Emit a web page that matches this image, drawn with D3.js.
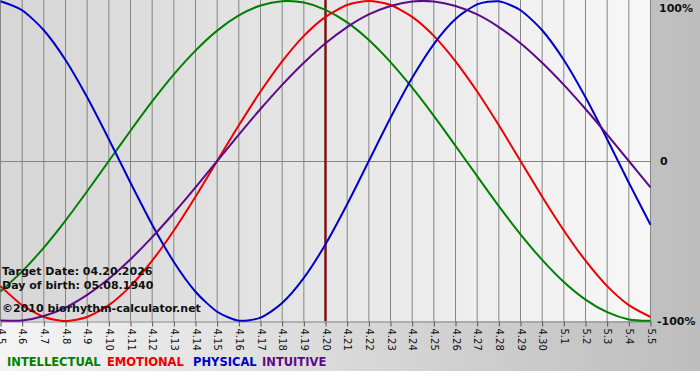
<!DOCTYPE html>
<html>
<head>
<meta charset="utf-8">
<script src="https://cdn.jsdelivr.net/npm/d3@7"></script>
<style>
  body { margin: 0; padding: 0; background: #fff; }
  svg { display: block; font-family: "DejaVu Sans", Verdana, sans-serif; }
</style>
</head>
<body>
<script>
// day labels on the x axis
var days = ["4.5","4.6","4.7","4.8","4.9","4.10","4.11","4.12","4.13","4.14","4.15","4.16","4.17","4.18","4.19","4.20",
  "4.21","4.22","4.23","4.24","4.25","4.26","4.27","4.28","4.29","4.30","5.1","5.2","5.3","5.4","5.5"];

// cycle values per day (-1 .. 1)
var intellectual = [-0.815,-0.690,-0.541,-0.372,-0.189,0,0.189,0.372,0.541,0.690,0.815,0.910,0.972,0.999,0.990,0.945,
  0.866,0.756,0.618,0.458,0.282,0.095,-0.095,-0.282,-0.458,-0.618,-0.756,-0.866,-0.945,-0.990,-0.999];
var emotional = [-0.782,-0.901,-0.975,-1,-0.975,-0.901,-0.782,-0.623,-0.434,-0.223,0,0.223,0.434,0.623,0.782,0.901,
  0.975,1,0.975,0.901,0.782,0.623,0.434,0.223,0,-0.223,-0.434,-0.623,-0.782,-0.901,-0.975];
var physical = [0.998,0.942,0.817,0.631,0.398,0.136,-0.136,-0.398,-0.631,-0.817,-0.942,-0.998,-0.979,-0.888,-0.731,-0.520,
  -0.270,0,0.270,0.520,0.731,0.888,0.979,0.998,0.942,0.817,0.631,0.398,0.136,-0.136,-0.398];
var intuitive = [-0.997,-0.997,-0.969,-0.916,-0.837,-0.736,-0.614,-0.476,-0.325,-0.165,0,0.165,0.325,0.476,0.614,0.736,
  0.837,0.916,0.969,0.997,0.997,0.969,0.916,0.837,0.736,0.614,0.476,0.325,0.165,0,-0.165];

var yTicks = [1, 0, -1];
var yTickLabels = ["100%", "0", "-100%"];
var targetDay = "4.20";
var infoLines = ["Target Date: 04.20.2026", "Day of birth: 05.08.1940"];
var copyright = "\u00a92010 biorhythm-calculator.net";

var series = [
  { name: "INTELLECTUAL", values: intellectual, color: "#008000" },
  { name: "EMOTIONAL", values: emotional, color: "#ee0000" },
  { name: "PHYSICAL", values: physical, color: "#0000cc" },
  { name: "INTUITIVE", values: intuitive, color: "#5c0a8a" }
];

var svgWidth = 700;
var svgHeight = 380;
var plot = { left: 0, top: 1, width: 651, height: 320 };

var svg = d3.select("body")
  .append("svg")
  .attr("width", svgWidth)
  .attr("height", svgHeight);

var defs = svg.append("defs");
var outerGrad = defs.append("linearGradient").attr("id", "outer");
outerGrad.append("stop").attr("offset", "0%").attr("stop-color", "#f4f4f4");
outerGrad.append("stop").attr("offset", "100%").attr("stop-color", "#bdbdbd");
var plotGrad = defs.append("linearGradient").attr("id", "plotbg");
plotGrad.append("stop").attr("offset", "0%").attr("stop-color", "#d6d6d6");
plotGrad.append("stop").attr("offset", "100%").attr("stop-color", "#f7f7f7");

// backgrounds
svg.append("rect").attr("width", svgWidth).attr("height", 371).attr("fill", "url(#outer)");
svg.append("rect").attr("y", 371).attr("width", svgWidth).attr("height", 9).attr("fill", "#ffffff");
svg.append("rect").attr("x", 0).attr("y", 0).attr("width", plot.width).attr("height", plot.height + plot.top)
  .attr("fill", "url(#plotbg)");

var x = d3.scalePoint()
  .domain(days)
  .range([plot.left + 0.5, plot.left + 650.5]);

var y = d3.scaleLinear()
  .domain([-1, 1])
  .range([plot.top + plot.height, plot.top]);

var chartGroup = svg.append("g");

// vertical grid lines for each day
chartGroup.selectAll("line.vgrid")
  .data(days)
  .enter()
  .append("line")
  .attr("class", "vgrid")
  .attr("x1", d => x(d))
  .attr("x2", d => x(d))
  .attr("y1", 0)
  .attr("y2", y(-1))
  .attr("stroke", "#858585")
  .attr("stroke-width", 1);

// zero line
chartGroup.append("line")
  .attr("x1", 0)
  .attr("x2", x(days[days.length - 1]))
  .attr("y1", Math.round(y(0)) + 0.5)
  .attr("y2", Math.round(y(0)) + 0.5)
  .attr("stroke", "#858585");

// bottom axis with rotated day labels
var bottomAxis = d3.axisBottom(x).tickSize(5).tickSizeOuter(0);
var axisG = chartGroup.append("g")
  .attr("transform", `translate(0, ${Math.round(y(-1)) + 0.5})`)
  .call(bottomAxis);
axisG.select(".domain").attr("stroke", "#858585");
axisG.selectAll(".tick line").attr("stroke", "#555");
axisG.selectAll(".tick text")
  .attr("transform", "rotate(90)")
  .attr("x", 7)
  .attr("y", 0)
  .attr("dy", "0.35em")
  .style("text-anchor", "start")
  .style("font-size", "10px")
  .style("font-family", "'DejaVu Sans', Verdana, sans-serif")
  .attr("fill", "#111");

// target date line
chartGroup.append("line")
  .attr("x1", x(targetDay))
  .attr("x2", x(targetDay))
  .attr("y1", 0)
  .attr("y2", y(-1))
  .attr("stroke", "#7a1414")
  .attr("stroke-width", 2.5);

// curves
var line = d3.line()
  .x((d, i) => x(days[i]))
  .y(d => y(d))
  .curve(d3.curveCardinal.tension(0.3));

chartGroup.selectAll("path.cycle")
  .data(series)
  .enter()
  .append("path")
  .attr("class", "cycle")
  .attr("d", d => line(d.values))
  .attr("fill", "none")
  .attr("stroke", d => d.color)
  .attr("stroke-width", 2);

// right side percentage labels
svg.selectAll("text.ylab")
  .data(yTicks)
  .enter()
  .append("text")
  .attr("class", "ylab")
  .attr("x", function(d, i) { return i === 1 ? 660 : (i === 0 ? 659 : 657); })
  .attr("y", d => Math.min(Math.max(y(d), 8), 322))
  .attr("dy", "0.35em")
  .style("font-size", "11px")
  .style("font-weight", "bold")
  .attr("fill", "#111")
  .text((d, i) => yTickLabels[i]);

// info text bottom-left
svg.selectAll("text.info")
  .data(infoLines)
  .enter()
  .append("text")
  .attr("class", "info")
  .attr("x", 2)
  .attr("y", (d, i) => 275 + i * 14)
  .style("font-size", "11px")
  .style("font-weight", "bold")
  .attr("fill", "#111")
  .text(d => d);

svg.append("text")
  .attr("x", 2)
  .attr("y", 312)
  .style("font-size", "11px")
  .style("font-weight", "bold")
  .attr("fill", "#111")
  .text(copyright);

// legend, one word per series
var legendX = [7, 107, 193, 262];
svg.selectAll("text.legend")
  .data(series)
  .enter()
  .append("text")
  .attr("class", "legend")
  .attr("x", (d, i) => legendX[i])
  .attr("y", 366)
  .style("font-size", "11.5px")
  .style("font-weight", "bold")
  .attr("fill", d => d.color)
  .text(d => d.name);
</script>
</body>
</html>
